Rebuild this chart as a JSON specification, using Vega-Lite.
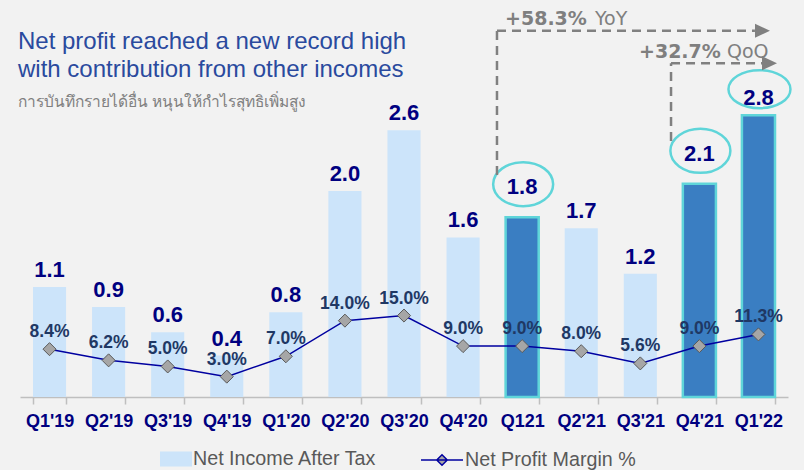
{
  "$schema": "https://vega.github.io/schema/vega-lite/v6.json",
  "width": 768,
  "height": 397,
  "autosize": {"type": "none"},
  "padding": {"left": 20, "top": 0, "right": 16, "bottom": 73},
  "background": "#f2f2f2",
  "config": {"view": {"stroke": null}},
  "title": {
    "text": ["Net profit reached a new record high", "with contribution from other incomes"],
    "subtitle": "การบันทึกรายได้อื่น หนุนให้กำไรสุทธิเพิ่มสูง",
    "anchor": "start",
    "frame": "group",
    "orient": "top",
    "font": "Liberation Sans",
    "fontSize": 24,
    "fontWeight": "normal",
    "color": "#2a4a9e",
    "lineHeight": 28,
    "subtitleFont": "Noto Sans, DejaVu Sans, sans-serif",
    "subtitleFontSize": 15.5,
    "subtitleColor": "#808080",
    "subtitlePadding": 13,
    "offset": 0,
    "dx": -2,
    "dy": 110
  },
  "datasets": {
    "q": [
      {"quarter": "Q1'19", "ni": 1.09, "margin": 0.084},
      {"quarter": "Q2'19", "ni": 0.89, "margin": 0.062},
      {"quarter": "Q3'19", "ni": 0.64, "margin": 0.050},
      {"quarter": "Q4'19", "ni": 0.41, "margin": 0.030},
      {"quarter": "Q1'20", "ni": 0.84, "margin": 0.070},
      {"quarter": "Q2'20", "ni": 2.04, "margin": 0.140},
      {"quarter": "Q3'20", "ni": 2.64, "margin": 0.150},
      {"quarter": "Q4'20", "ni": 1.58, "margin": 0.090},
      {"quarter": "Q121", "ni": 1.78, "margin": 0.090},
      {"quarter": "Q2'21", "ni": 1.67, "margin": 0.080},
      {"quarter": "Q3'21", "ni": 1.22, "margin": 0.056},
      {"quarter": "Q4'21", "ni": 2.11, "margin": 0.090},
      {"quarter": "Q1'22", "ni": 2.79, "margin": 0.113}
    ],
    "arrows": [
      {"x1": 8.074, "x2": 8.074, "y1": 2.198, "y2": 3.626},
      {"x1": 8.074, "x2": 12.44, "y1": 3.626, "y2": 3.626},
      {"x1": 11.02, "x2": 11.02, "y1": 2.534, "y2": 3.303},
      {"x1": 11.02, "x2": 12.56, "y1": 3.303, "y2": 3.303}
    ],
    "heads": [
      {"x": 12.568, "y": 3.626},
      {"x": 12.687, "y": 3.303}
    ],
    "changes": [
      {"x": 8.21, "y": 3.682, "text": "+58.3%"},
      {"x": 10.478, "y": 3.356, "text": "+32.7%"}
    ],
    "bases": [
      {"x": 9.733, "y": 3.682, "text": "YoY"},
      {"x": 11.967, "y": 3.356, "text": "QoQ"}
    ]
  },
  "data": {"name": "q"},
  "resolve": {"scale": {"x": "independent", "y": "independent", "color": "independent", "stroke": "independent"}},
  "layer": [
    {
      "mark": {"type": "bar"},
      "encoding": {
        "x": {"field": "quarter", "type": "nominal", "sort": null,
          "scale": {"type": "band", "domain": ["Q1'19","Q2'19","Q3'19","Q4'19","Q1'20","Q2'20","Q3'20","Q4'20","Q121","Q2'21","Q3'21","Q4'21","Q1'22"], "paddingInner": 0.44, "paddingOuter": 0.22},
          "axis": {"title": null, "tickBand": "extent", "labelAngle": 0, "labelFont": "Liberation Sans", "labelFontSize": 18, "labelFontWeight": "bold", "labelColor": "#000080", "labelPadding": 8, "tickSize": 7, "tickColor": "#bfbfbf", "domainColor": "#bfbfbf", "domainWidth": 1.5, "tickWidth": 1.5, "grid": false}},
        "y": {"field": "ni", "type": "quantitative", "scale": {"domain": [0, 3.93], "nice": false, "zero": false}, "axis": null},
        "color": {"datum": "Net Income After Tax", "scale": {"range": ["#cce4fa"]},
          "legend": {"orient": "none", "legendX": 140, "legendY": 443, "title": null, "symbolType": "M-1,-0.47H1V0.47H-1Z", "symbolSize": 1024, "symbolStrokeWidth": 0, "labelOffset": 1, "labelFontSize": 19.7, "labelFont": "Liberation Sans", "labelColor": "#595959", "labelLimit": 400, "padding": 0, "symbolOffset": 0}}
      }
    },
    {
      "transform": [{"filter": {"field": "quarter", "oneOf": ["Q121", "Q4'21", "Q1'22"]}}],
      "mark": {"type": "bar", "fill": "#3a7ec2", "stroke": "#5fd5d9", "strokeWidth": 2.5},
      "encoding": {
        "x": {"field": "quarter", "type": "nominal", "sort": null,
          "scale": {"type": "band", "domain": ["Q1'19","Q2'19","Q3'19","Q4'19","Q1'20","Q2'20","Q3'20","Q4'20","Q121","Q2'21","Q3'21","Q4'21","Q1'22"], "paddingInner": 0.44, "paddingOuter": 0.22}, "axis": null},
        "y": {"field": "ni", "type": "quantitative", "scale": {"domain": [0, 3.93], "nice": false, "zero": false}, "axis": null}
      }
    },
    {
      "mark": {"type": "line", "strokeWidth": 1.5},
      "encoding": {
        "x": {"field": "quarter", "type": "nominal", "sort": null,
          "scale": {"type": "point", "domain": ["Q1'19","Q2'19","Q3'19","Q4'19","Q1'20","Q2'20","Q3'20","Q4'20","Q121","Q2'21","Q3'21","Q4'21","Q1'22"], "padding": 0.5}, "axis": null},
        "y": {"field": "margin", "type": "quantitative", "scale": {"domain": [-0.01, 0.77], "nice": false, "zero": false}, "axis": null},
        "stroke": {"datum": "Net Profit Margin %", "scale": {"range": ["#0000a0"]},
          "legend": {"orient": "none", "legendX": 400, "legendY": 438, "title": null, "symbolType": "M-1,0H1M0,-0.25L0.25,0L0,0.25L-0.25,0Z", "symbolSize": 1764, "symbolStrokeWidth": 1.5, "symbolFillColor": "#a6a6a6", "labelOffset": 1, "labelFontSize": 19.7, "labelFont": "Liberation Sans", "labelColor": "#595959", "labelLimit": 400, "padding": 0, "symbolOffset": 0,
            "encode": {"symbols": {"update": {"fill": {"value": "#a6a6a6"}}}}}}
      }
    },
    {
      "mark": {"type": "point", "shape": "diamond", "filled": true, "fill": "#a6a6a6", "stroke": "#595959", "strokeWidth": 1, "size": 170, "opacity": 1},
      "encoding": {
        "x": {"field": "quarter", "type": "nominal", "sort": null,
          "scale": {"type": "point", "domain": ["Q1'19","Q2'19","Q3'19","Q4'19","Q1'20","Q2'20","Q3'20","Q4'20","Q121","Q2'21","Q3'21","Q4'21","Q1'22"], "padding": 0.5}, "axis": null},
        "y": {"field": "margin", "type": "quantitative", "scale": {"domain": [-0.01, 0.77], "nice": false, "zero": false}, "axis": null}
      }
    },
    {
      "mark": {"type": "text", "font": "Liberation Sans", "fontSize": 17.5, "fontWeight": "bold", "color": "#1f3864", "baseline": "alphabetic", "dy": -12},
      "encoding": {
        "x": {"field": "quarter", "type": "nominal", "sort": null,
          "scale": {"type": "point", "domain": ["Q1'19","Q2'19","Q3'19","Q4'19","Q1'20","Q2'20","Q3'20","Q4'20","Q121","Q2'21","Q3'21","Q4'21","Q1'22"], "padding": 0.5}, "axis": null},
        "y": {"field": "margin", "type": "quantitative", "scale": {"domain": [-0.01, 0.77], "nice": false, "zero": false}, "axis": null},
        "text": {"field": "margin", "type": "quantitative", "format": ".1%"}
      }
    },
    {
      "transform": [{"filter": {"not": {"field": "quarter", "oneOf": ["Q121", "Q4'21"]}}}],
      "mark": {"type": "text", "font": "Liberation Sans", "fontSize": 22, "fontWeight": "bold", "color": "#000080", "baseline": "alphabetic", "dy": -10},
      "encoding": {
        "x": {"field": "quarter", "type": "nominal", "sort": null,
          "scale": {"type": "point", "domain": ["Q1'19","Q2'19","Q3'19","Q4'19","Q1'20","Q2'20","Q3'20","Q4'20","Q121","Q2'21","Q3'21","Q4'21","Q1'22"], "padding": 0.5}, "axis": null},
        "y": {"field": "ni", "type": "quantitative", "scale": {"domain": [0, 3.93], "nice": false, "zero": false}, "axis": null},
        "text": {"field": "ni", "type": "quantitative", "format": ".1f"}
      }
    },
    {
      "transform": [{"filter": {"field": "quarter", "oneOf": ["Q121", "Q4'21"]}}],
      "mark": {"type": "text", "font": "Liberation Sans", "fontSize": 22, "fontWeight": "bold", "color": "#000080", "baseline": "alphabetic", "dy": -23},
      "encoding": {
        "x": {"field": "quarter", "type": "nominal", "sort": null,
          "scale": {"type": "point", "domain": ["Q1'19","Q2'19","Q3'19","Q4'19","Q1'20","Q2'20","Q3'20","Q4'20","Q121","Q2'21","Q3'21","Q4'21","Q1'22"], "padding": 0.5}, "axis": null},
        "y": {"field": "ni", "type": "quantitative", "scale": {"domain": [0, 3.93], "nice": false, "zero": false}, "axis": null},
        "text": {"field": "ni", "type": "quantitative", "format": ".1f"}
      }
    },
    {
      "transform": [{"filter": {"field": "quarter", "oneOf": ["Q121", "Q4'21"]}}],
      "mark": {"type": "point", "shape": "M-1.5,0C-1.5,-0.6075,-0.828,-1.1,0,-1.1C0.828,-1.1,1.5,-0.6075,1.5,0C1.5,0.6075,0.828,1.1,0,1.1C-0.828,1.1,-1.5,0.6075,-1.5,0Z", "size": 1600, "filled": false, "stroke": "#5fd5d9", "strokeWidth": 2.5, "opacity": 1, "yOffset": -33, "xOffset": 1},
      "encoding": {
        "x": {"field": "quarter", "type": "nominal", "sort": null,
          "scale": {"type": "point", "domain": ["Q1'19","Q2'19","Q3'19","Q4'19","Q1'20","Q2'20","Q3'20","Q4'20","Q121","Q2'21","Q3'21","Q4'21","Q1'22"], "padding": 0.5}, "axis": null},
        "y": {"field": "ni", "type": "quantitative", "scale": {"domain": [0, 3.93], "nice": false, "zero": false}, "axis": null}
      }
    },
    {
      "transform": [{"filter": {"field": "quarter", "oneOf": ["Q1'22"]}}],
      "mark": {"type": "point", "shape": "M-1.55,0C-1.55,-0.525,-0.856,-0.95,0,-0.95C0.856,-0.95,1.55,-0.525,1.55,0C1.55,0.525,0.856,0.95,0,0.95C-0.856,0.95,-1.55,0.525,-1.55,0Z", "size": 1600, "filled": false, "stroke": "#5fd5d9", "strokeWidth": 2.5, "opacity": 1, "yOffset": -26, "xOffset": 1},
      "encoding": {
        "x": {"field": "quarter", "type": "nominal", "sort": null,
          "scale": {"type": "point", "domain": ["Q1'19","Q2'19","Q3'19","Q4'19","Q1'20","Q2'20","Q3'20","Q4'20","Q121","Q2'21","Q3'21","Q4'21","Q1'22"], "padding": 0.5}, "axis": null},
        "y": {"field": "ni", "type": "quantitative", "scale": {"domain": [0, 3.93], "nice": false, "zero": false}, "axis": null}
      }
    },
    {
      "data": {"name": "arrows"},
      "mark": {"type": "rule", "color": "#808080", "strokeWidth": 2.5, "strokeDash": [9, 6]},
      "encoding": {
        "x": {"field": "x1", "type": "quantitative", "scale": {"domain": [0, 13], "nice": false, "zero": false}, "axis": null},
        "x2": {"field": "x2"},
        "y": {"field": "y1", "type": "quantitative", "scale": {"domain": [0, 3.93], "nice": false, "zero": false}, "axis": null},
        "y2": {"field": "y2"}
      }
    },
    {
      "data": {"name": "heads"},
      "mark": {"type": "point", "shape": "M-1,-0.93L1,0L-1,0.93Z", "size": 225, "filled": true, "fill": "#808080", "strokeWidth": 0, "opacity": 1},
      "encoding": {
        "x": {"field": "x", "type": "quantitative", "scale": {"domain": [0, 13], "nice": false, "zero": false}, "axis": null},
        "y": {"field": "y", "type": "quantitative", "scale": {"domain": [0, 3.93], "nice": false, "zero": false}, "axis": null}
      }
    },
    {
      "data": {"name": "changes"},
      "mark": {"type": "text", "font": "DejaVu Sans", "fontSize": 19, "fontWeight": "bold", "color": "#7f7f7f", "align": "left", "baseline": "alphabetic"},
      "encoding": {
        "x": {"field": "x", "type": "quantitative", "scale": {"domain": [0, 13], "nice": false, "zero": false}, "axis": null},
        "y": {"field": "y", "type": "quantitative", "scale": {"domain": [0, 3.93], "nice": false, "zero": false}, "axis": null},
        "text": {"field": "text"}
      }
    },
    {
      "data": {"name": "bases"},
      "mark": {"type": "text", "font": "DejaVu Sans", "fontSize": 19, "fontWeight": "normal", "color": "#7f7f7f", "align": "left", "baseline": "alphabetic"},
      "encoding": {
        "x": {"field": "x", "type": "quantitative", "scale": {"domain": [0, 13], "nice": false, "zero": false}, "axis": null},
        "y": {"field": "y", "type": "quantitative", "scale": {"domain": [0, 3.93], "nice": false, "zero": false}, "axis": null},
        "text": {"field": "text"}
      }
    }
  ]
}
